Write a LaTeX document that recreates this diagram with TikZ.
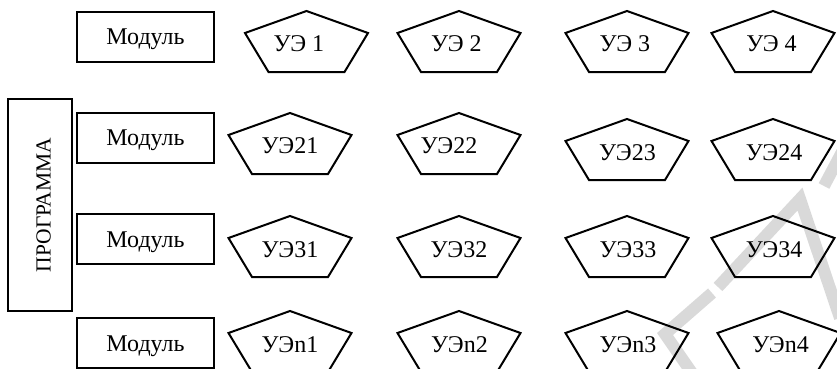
\documentclass[tikz,border=0pt]{standalone}
\usepackage{fontspec}
\setmainfont{Liberation Serif}
\tikzset{
  modbox/.style={draw, line width=2pt, minimum width=137pt, minimum height=50pt,
    inner sep=0pt, text height=19pt, text depth=3pt, font=\fontsize{24}{28}\selectfont},
  progbox/.style={draw, line width=2pt, rotate=90, minimum width=212pt, minimum height=64pt,
    inner sep=0pt, text height=23pt, text depth=2pt, font=\fontsize{21.5}{26}\selectfont},
  pentline/.style={line width=2pt, line join=miter},
  pentlabel/.style={anchor=base, inner sep=0pt, font=\fontsize{24}{28}\selectfont},
  wmark/.style={draw=black!15, line width=12pt},
}
% name, cx, top, label x, label baseline offset, label
\newcommand\pentUE[6]{%
  \draw[pentline] (#2,#3) -- ++(61.5,22) -- ++(-23.5,39) -- ++(-76,0) -- ++(-23.5,-39) -- cycle;
  \node[pentlabel] (#1) at (#4,#3+#5) {#6};
}
\begin{document}
\begin{tikzpicture}[x=1pt,y=-1pt]
\useasboundingbox (0,0) rectangle (837,369);
\clip (0,0) rectangle (837,369);
% watermark
\draw[wmark] (692,373) -- (665,334) -- (712,293);
\draw[wmark] (718,287) -- (800,199) -- (840,318);
\draw[wmark] (824,186) -- (842,152);
% program box
\node[progbox] (prog) at (40,205) {ПРОГРАММА};
% modules
\node[modbox] (m1) at (145.5,37) {Модуль};
\node[modbox] (m2) at (145.5,137.5) {Модуль};
\node[modbox] (m3) at (145.5,239) {Модуль};
\node[modbox] (m4) at (145.5,343) {Модуль};
% row 1
\pentUE{e11}{306.5}{11}{299}{41}{УЭ 1}
\pentUE{e12}{459}{11}{456.5}{41}{УЭ 2}
\pentUE{e13}{627}{11}{625}{41}{УЭ 3}
\pentUE{e14}{773}{11}{771.5}{41}{УЭ 4}
% row 2
\pentUE{e21}{290}{113}{290}{40}{УЭ21}
\pentUE{e22}{459}{113}{449}{40}{УЭ22}
\pentUE{e23}{627}{119}{627.5}{41}{УЭ23}
\pentUE{e24}{773}{119}{774}{41}{УЭ24}
% row 3
\pentUE{e31}{290}{216}{290}{41}{УЭ31}
\pentUE{e32}{459}{216}{459}{41}{УЭ32}
\pentUE{e33}{627}{216}{628}{41}{УЭ33}
\pentUE{e34}{773}{216}{774}{41}{УЭ34}
% row 4
\pentUE{e41}{290}{311}{290}{41}{УЭn1}
\pentUE{e42}{459}{311}{459.5}{41}{УЭn2}
\pentUE{e43}{627}{311}{628}{41}{УЭn3}
\pentUE{e44}{779}{311}{780.5}{41}{УЭn4}
\end{tikzpicture}
\end{document}
